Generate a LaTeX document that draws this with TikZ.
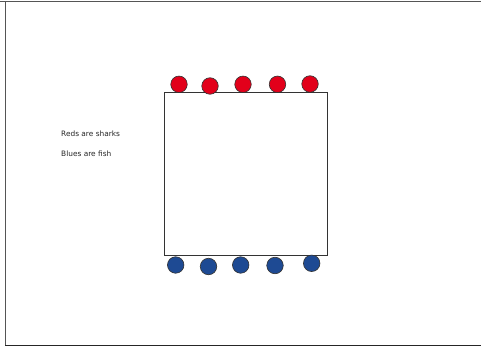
\documentclass[tikz,border=0pt]{standalone}
\usepackage{fontspec}
\setmainfont{DejaVu Sans}
\definecolor{shark}{HTML}{E2001A}
\definecolor{fish}{HTML}{1E4A93}
\definecolor{framec}{HTML}{555555}
\tikzset{
  redball/.style={circle, draw=black!80, line width=0.6pt, fill=shark, minimum size=16.5pt, inner sep=0pt},
  blueball/.style={circle, draw=black!80, line width=0.6pt, fill=fish, minimum size=16.5pt, inner sep=0pt},
  legend/.style={anchor=west, font=\fontsize{7.4}{8}\selectfont, inner sep=0pt, text=black!85},
  tank/.style={draw=black!80, line width=0.7pt}
}
\begin{document}
\begin{tikzpicture}[x=1pt,y=-1pt]
\useasboundingbox (0,0) rectangle (481,347);
\fill[white] (0,0) rectangle (481,347);
% frame
\draw[framec, line width=1.2pt] (0,1.2) -- (481,1.2);
\draw[framec, line width=0.9pt] (5,1.2) -- (5,345.5);
\draw[black!85, line width=1pt] (5,345.5) -- (481,345.5);
% tank
\node[tank, minimum width=163pt, minimum height=163pt, inner sep=0pt] (sq) at (245.5,173.5) {};
% reds
\node[redball] (r1) at (179,84.3) {};
\node[redball] (r2) at (210,86) {};
\node[redball] (r3) at (243,84.3) {};
\node[redball] (r4) at (277.5,84.3) {};
\node[redball] (r5) at (310,84) {};
% blues
\node[blueball] (b1) at (175.7,265) {};
\node[blueball] (b2) at (208.5,266.5) {};
\node[blueball] (b3) at (240.7,265) {};
\node[blueball] (b4) at (275,265.5) {};
\node[blueball] (b5) at (311.7,263.3) {};
% legend
\node[legend] (t1) at (61,134) {Reds are sharks};
\node[legend] (t2) at (61,154) {Blues are fish};
\end{tikzpicture}
\end{document}
